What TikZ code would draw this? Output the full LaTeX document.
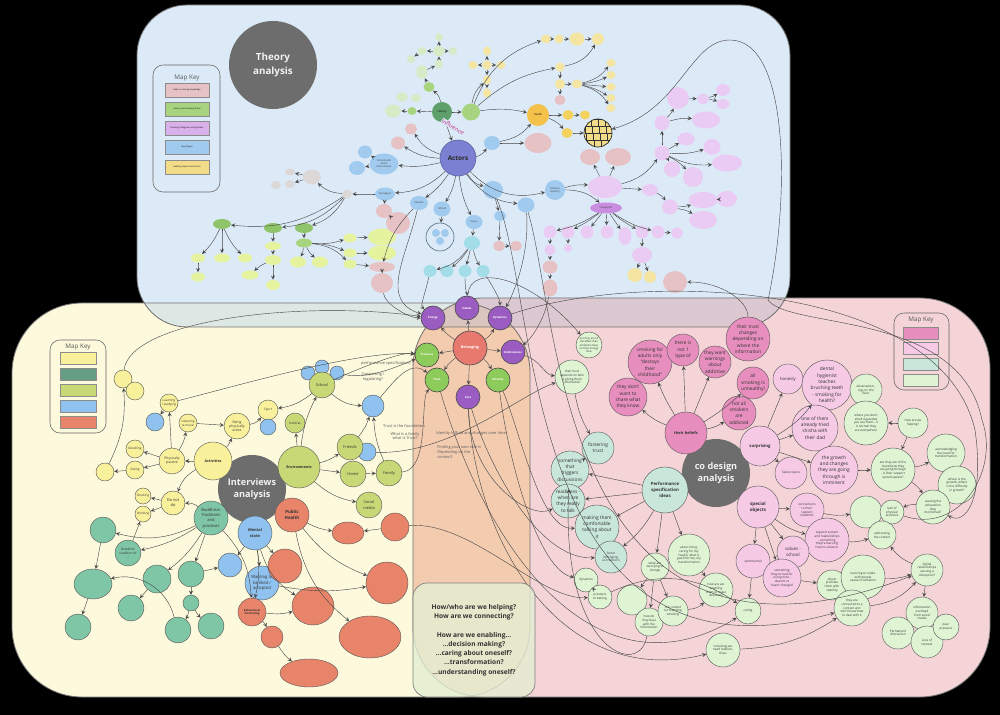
\documentclass[tikz,border=0pt]{standalone}
\usepackage{fontspec}
\setmainfont{Open Sans}
\usetikzlibrary{arrows, positioning, calc, shapes.geometric}
% region colours
\definecolor{regblue}{HTML}{DCEAF7}
\definecolor{regyel}{HTML}{FDF9DC}
\definecolor{regpnk}{HTML}{F4D4D6}
\definecolor{regorg}{HTML}{F3CCB0}
\definecolor{regby}{HTML}{DDE7E3}
\definecolor{regbp}{HTML}{DCC8D0}
\definecolor{regall}{HTML}{DAC6BE}
\definecolor{qbox}{HTML}{E3EED2}
\definecolor{cgrey}{HTML}{6D6D6D}
% theory colours
\definecolor{tpk}{HTML}{E6C2C5}
\definecolor{tdg}{HTML}{5F9F6B}
\definecolor{tmg}{HTML}{8FC46A}
\definecolor{tlg}{HTML}{A8D47F}
\definecolor{tpg}{HTML}{D6EBC6}
\definecolor{tyg}{HTML}{E6F39E}
\definecolor{tbl}{HTML}{A0CAEE}
\definecolor{tte}{HTML}{A3DDE8}
\definecolor{tlv}{HTML}{EACBF3}
\definecolor{tpu}{HTML}{C98EE0}
\definecolor{tyl}{HTML}{F4E5A2}
\definecolor{tys}{HTML}{F5D25E}
\definecolor{tor}{HTML}{F4C24A}
\definecolor{tgy}{HTML}{DCD8D8}
\definecolor{tact}{HTML}{7C80D2}
\definecolor{tnote}{HTML}{F2DC8A}
% interview colours
\definecolor{iyl}{HTML}{F9F09B}
\definecolor{iyg}{HTML}{C9D877}
\definecolor{ite}{HTML}{7FC6A6}
\definecolor{ibl}{HTML}{8FC2EE}
\definecolor{ior}{HTML}{E8846A}
% co design colours
\definecolor{cdp}{HTML}{E78EBE}
\definecolor{clp}{HTML}{F6C9E5}
\definecolor{clg}{HTML}{DEF4D3}
\definecolor{clt}{HTML}{C9E6DB}
% belonging colours
\definecolor{bred}{HTML}{E8796F}
\definecolor{bpur}{HTML}{9B5CC2}
\definecolor{bgrn}{HTML}{8DCB5B}
\tikzset{
  region/.style={draw=black!55, line width=0.6pt},
  big/.style={circle, fill=cgrey, text=white!95!black, inner sep=0pt, align=center},
  bub/.style={circle, draw=black!65, line width=0.3pt, inner sep=0pt, align=center, text=black!80, font=\fontsize{2.2}{2.7}\selectfont},
  rad/.style={minimum size=#1*0.05cm},
  sz/.style 2 args={ellipse, minimum width=#1*0.025cm, minimum height=#2*0.025cm},
  tn/.style={ellipse, inner sep=0pt, align=center, text=black!75, font=\fontsize{1.8}{2.1}\selectfont},
  cl/.style={circle, draw=black!70, line width=0.45pt, inner sep=0pt, align=center, text=white, font=\bfseries\fontsize{2}{2.4}\selectfont, minimum size=0.6cm},
  tra/.style={->, >=stealth, draw=black!72, line width=0.3pt},
  lab/.style={font=\fontsize{2.8}{3.4}\selectfont, text=black!65, align=center, inner sep=0pt},
  keybox/.style={draw=black!60, line width=0.4pt, rounded corners=0.25cm},
  keyrow/.style={draw=black!45, line width=0.3pt, inner sep=0pt, minimum width=1.1cm, minimum height=0.36cm, align=center, text width=1.05cm, font=\fontsize{1.5}{1.8}\selectfont},
  keytit/.style={font=\fontsize{4.5}{5}\selectfont, text=black!65}
}

\begin{document}
\begin{tikzpicture}[x=0.025cm, y=-0.025cm]
	\useasboundingbox (0,0) rectangle (1000,715);
	\fill[black] (0,0) rectangle (1000,715);
	% regions
	\fill[regyel, rounded corners=1.75cm] (12,303) rectangle (530,697);
	\fill[regpnk, rounded corners=1.75cm] (413,298) rectangle (990,697);
	\fill[regblue, rounded corners=1.25cm] (137,5) rectangle (790,327);
	\begin{scope}
		\clip[rounded corners=1.75cm] (12,303) rectangle (530,697);
		\fill[regorg, rounded corners=1.75cm] (413,298) rectangle (990,697);
		\fill[regby, rounded corners=1.25cm] (137,5) rectangle (790,327);
	\end{scope}
	\begin{scope}
		\clip[rounded corners=1.75cm] (413,298) rectangle (990,697);
		\fill[regbp, rounded corners=1.25cm] (137,5) rectangle (790,327);
	\end{scope}
	\begin{scope}
		\clip[rounded corners=1.75cm] (12,303) rectangle (530,697);
		\clip[rounded corners=1.75cm] (413,298) rectangle (990,697);
		\fill[regall, rounded corners=1.25cm] (137,5) rectangle (790,327);
	\end{scope}
	\draw[region, rounded corners=1.75cm] (12,303) rectangle (530,697);
	\draw[region, rounded corners=1.75cm] (413,298) rectangle (990,697);
	\draw[region, rounded corners=1.25cm] (137,5) rectangle (790,327);

	% ---------- theory analysis ----------
	\node[big, minimum size=2.2cm, font=\bfseries\fontsize{7}{10.5}\selectfont] (theo) at (273,65) {Theory\\analysis};
	\draw[keybox] (153,65) rectangle (220,192);
	\node[keytit] (tkey) at (187,78) {Map Key};
	\foreach \nm/\y/\c/\t in {ka/90/tpk/Gaps in missing knowledge, kb/109/tlg/History and Smoking Terms, kc/128/tpu!70/Smoking Categories and Systems, kd/147/tbl/Key Players, ke/167/tnote/Healthy Aspects and Terms}
		\node[keyrow, fill=\c] (\nm) at (187,\y) {\t};

	\foreach \nm/\x/\y/\ww/\hh in {hB/393/111/16/13, hC/402/97/12/9, hD/416/98/10/8, hF/422/72/11/14, hG/411/59/8/8, hH/422/51/9/8, hI/439/51/12/10, hJ/439/37/8/8, hK/453/51/8/8, hL/439/64/8/9}
		\node[tn, sz={\ww}{\hh}, fill=tpg] (\nm) at (\x,\y) {};
	\foreach \nm/\x/\y/\ww/\hh in {hA/412/111/9/8, hE/429/87/11/10, hM/471/112/18/17, gr3a/304/243/16/9}
		\node[tn, sz={\ww}{\hh}, fill=tlg] (\nm) at (\x,\y) {};
	\foreach \nm/\x/\y/\ww/\hh in {gr1/222/224/18/10, gr2/273/228/18/10, gr3/304/228/18/10}
		\node[tn, sz={\ww}{\hh}, fill=tmg] (\nm) at (\x,\y) {};
	\foreach \nm/\x/\y/\ww/\hh in {gr1a/198/258/14/9, gr1b/198/277/14/9, gr1c/222/258/16/9, gr1d/245/258/14/9, gr2a/273/246/16/8, gr2b/273/260/16/10, gr2c/273/285/14/10, gr2d/250/275/17/9, gr3b/298/262/16/11, gr3c/320/262/16/11, gA1/350/238/13/9, gA2/350/253/13/9, gA3/350/264/13/9, ygA/382/237/28/17, ygB/382/253/28/15}
		\node[tn, sz={\ww}{\hh}, fill=tyg] (\nm) at (\x,\y) {};
	\foreach \nm/\x/\y/\ww/\hh in {yA/487/51/8/9, yB/473/65/9/8, yC/487/65/9/9, yD/501/65/9/8, yE/487/80/8/9, yF/487/93/8/9, yG/546/39/10/9, yH/559/39/9/9, yI/577/39/15/13, yJ/598/39/12/12, yK/560/67/9/9, yL/560/84/10/10, yM/577/84/10/9, yN/611/63/9/8, yO/611/75/9/8, yP/611/87/9/8, yQ/611/98/9/8, yR/611/108/9/8, c6b/635/275/15/14, c6c/650/277/12/12}
		\node[tn, sz={\ww}{\hh}, fill=tyl] (\nm) at (\x,\y) {};
	\foreach \nm/\x/\y/\ww/\hh in {yS/568/115/11/10, yT/585/115/10/9, yU/567/133/11/10}
		\node[tn, sz={\ww}{\hh}, fill=tys] (\nm) at (\x,\y) {};
	\foreach \nm/\x/\y/\ww/\hh in {pA/560/100/11/10, pB/590/157/20/16, pC/618/157/26/18, pD/675/282/24/22, pE/411/129/12/11, pF/398/143/14/13, pG/538/143/27/20, pH/384/211/16/14, pI/398/223/24/22, pJ/499/246/12/10, pK/516/246/12/10, pL/382/267/26/10, pM/382/283/22/20, c1b/550/267/15/13, c1c/550/288/15/17}
		\node[tn, sz={\ww}{\hh}, fill=tpk] (\nm) at (\x,\y) {};
	\foreach \nm/\x/\y/\ww/\hh in {lA/605/187/34/22, lB/650/190/16/12, c1/550/232/13/13, c2/568/232/13/13, c3/587/232/13/13, c4/607/232/13/13, c5/625/236/13/18, c6/642/232/13/13, c7/658/232/13/13, c8/677/233/12/11, c1a/550/250/11/11, c2a/568/248/8/8, c6a/642/255/20/16, r1/662/123/15/15, r2/678/98/22/22, r3/703/99/12/10, r4/723/90/14/12, r5/723/104/13/10, r6/706/120/28/17, r7/662/153/15/15, r8/686/139/17/13, r9/712/147/17/16, r10/727/163/30/17, r11/672/169/16/16, r12/693/177/20/20, r13/670/207/16/15, r14/703/200/29/16, r15/727/199/20/16, r16/703/220/28/18}
		\node[tn, sz={\ww}{\hh}, fill=tlv] (\nm) at (\x,\y) {};
	\foreach \nm/\x/\y/\ww/\hh in {frA/365/152/14/13, frB/357/168/16/14, hc/492/143/16/14, gov/493/190/20/18, bA/526/205/17/15, bB/500/216/12/10}
		\node[tn, sz={\ww}{\hh}, fill=tbl] (\nm) at (\x,\y) {};
	\foreach \nm/\x/\y/\ww/\hh in {tA/472/243/16/14, tB/430/271/13/12, tC/447/271/13/12, tD/465/271/13/12, tE/483/271/13/12}
		\node[tn, sz={\ww}{\hh}, fill=tte] (\nm) at (\x,\y) {};
	\foreach \nm/\x/\y/\ww/\hh in {gA/347/194/10/9, gD/312/177/18/15, gE/290/172/10/7, gF/290/184/10/8, gG/276/185/10/8}
		\node[tn, sz={\ww}{\hh}, fill=tgy] (\nm) at (\x,\y) {};

	\node[circle, fill=tact, draw=tact!75!black, line width=0.4pt, minimum size=36*0.025cm, inner sep=0pt, text=black!85, font=\bfseries\fontsize{4.5}{5}\selectfont] (act) at (458,158) {Actors};
	\node[circle, fill=tdg, minimum size=20*0.025cm, inner sep=0pt, font=\fontsize{1.9}{2.2}\selectfont] (hist) at (442,112) {History};
	\node[circle, fill=tor, minimum size=22*0.025cm, inner sep=0pt, font=\fontsize{1.9}{2.2}\selectfont] (health) at (538,115) {Health};
	\node[tn, sz={29}{21}, fill=tbl] (fr) at (384,164) {Friends and\\social\\environment};
	\node[tn, sz={20}{13}, fill=tbl] (teen) at (385,194) {Teenagers};
	\node[tn, sz={18}{14}, fill=tbl] (par) at (419,203) {Parents};
	\node[tn, sz={17}{15}, fill=tbl] (tsch) at (442,209) {School};
	\node[tn, sz={17}{14}, fill=tbl] (tpeer) at (474,222) {Peers};
	\node[tn, sz={20}{20}, fill=tbl] (tob) at (555,190) {Tobacco\\industry};
	\node[tn, sz={32}{11}, fill=tpu] (cat) at (606,208) {Categories};
	\node[circle, draw=tbl!60!black, line width=0.5pt, minimum size=28*0.025cm] (schgrp) at (440,237) {};
	\foreach \nm/\x/\y in {sgA/436/233, sgB/445/233, sgC/440/241}
		\node[circle, fill=tbl, minimum size=8*0.025cm, inner sep=0pt] (\nm) at (\x,\y) {};
	% sticky notes
	\node[circle, fill=tnote, minimum size=28*0.025cm, inner sep=0pt] (stk) at (598,133) {};
	\begin{scope}
		\clip (598,133) circle (0.35cm);
		\foreach \i in {0,...,3}
			\foreach \j in {0,...,3}
				\draw[fill=tnote, draw=black!80, line width=0.3pt] (584+\i*7+\j,119+\j*7) rectangle ++(7,7);
	\end{scope}
	\draw[black!85, line width=0.5pt] (stk) circle (0.35cm);

	\draw[tra] (hist) -- (act);
	\node[rotate=-32, fill=regblue, inner sep=0.3pt, text=magenta!75!black, font=\fontsize{4.2}{4.6}\selectfont] (infl) at (453,127) {Influence};
	\foreach \a/\b/\s in {hist/hA/0, hA/hB/0, hist/hM/0, hist/hE/-20, hE/hF/0, hF/hL/0, hL/hI/0, hI/hJ/0, hI/hH/0, hI/hK/0, hH/hG/0, hM/yE/20, hM/yG/25, hM/yK/15, hM/health/10, yC/yA/0, yC/yB/0, yC/yD/0, yC/yE/0, yE/yF/0, yG/yH/0, yH/yI/0, yI/yJ/0, yK/yL/0, yL/yM/0, yL/pA/0, yM/yN/-20, yM/yO/-10, yM/yP/0, yM/yQ/10, yM/yR/20, yK/yJ/-25, health/yS/0, yS/yT/0, health/yU/15, yU/stk/0, act/hc/-20, hc/pG/0, hc/health/-20, act/fr/10, fr/frA/0, fr/frB/0, act/pE/20, act/pF/15, act/teen/20, act/par/10, act/tsch/10, act/tpeer/-10, act/gov/-20, act/bA/-25, act/tob/-30, teen/gA/0, gA/gD/20, gD/gE/0, gD/gF/0, gA/gr1/20, gA/gr2/20, gA/gr3/20, gr1/gr1a/10, gr1a/gr1b/0, gr1/gr1c/0, gr1/gr1d/-10, gr2/gr2a/0, gr2a/gr2b/0, gr2b/gr2c/0, gr2b/gr2d/-10, gr3/gr3a/0, gr3a/gr3b/10, gr3a/gr3c/-10, gr3a/gA1/-10, gr3a/gA2/10, gr3a/gA3/20, gA1/ygA/0, gA2/ygB/0, gA3/pL/0, teen/pH/0, pH/pI/0, par/pL/-15, tsch/schgrp/0, tpeer/tA/0, tA/tB/20, tA/tC/10, tA/tD/0, tA/tE/-10, gov/bB/0, bB/pJ/0, pJ/pK/0, tob/lA/10, tob/cat/20, lA/pB/0, lA/pC/0, lA/lB/0, lA/r7/-20, r7/r1/0, r1/r2/-10, r1/r6/10, r2/r3/0, r3/r4/-10, r3/r5/10, r7/r8/0, r7/r9/-10, r7/r10/-15, r7/r11/10, r7/r12/10, lB/r13/15, r13/r14/-10, r13/r16/10, r14/r15/0, cat/c1/10, cat/c2/5, cat/c3/0, cat/c4/0, cat/c5/0, cat/c6/-5, cat/c7/-10, c7/c8/0, c1/c1a/0, c1a/c1b/0, c1b/c1c/0, c2/c2a/0, c6/c6a/0, c6a/c6b/0, c6a/c6c/0, pL/pM/0}
		\draw[tra] (\a) to[bend left=\s] (\b);

	% ---------- belonging ----------
	\node[cl, fill=bred, minimum size=34*0.025cm, font=\bfseries\fontsize{2.6}{3}\selectfont] (bel0) at (470,348) {Belonging};
	\foreach \nm/\x/\y/\c/\t in {energy/433/318/bpur/Energy, habits/467/308/bpur/Habits, dyn0/500/318/bpur/Dynamics, amb/513/352/bpur/Ambivalence, care/468/397/bpur/Care, pres/427/355/bgrn/Presence, trust/437/380/bgrn/Trust, ident/498/380/bgrn/Identity}
		\node[cl, fill=\c] (\nm) at (\x,\y) {\t};
	\foreach \a/\b/\s in {bel0/energy/10, bel0/habits/0, bel0/dyn0/-15, bel0/amb/0, bel0/pres/0, bel0/trust/-10, bel0/ident/10, bel0/care/0}
		\draw[tra] (\a) to[bend left=\s] (\b);

	% ---------- interviews analysis ----------
	\node[big, minimum size=1.7cm, font=\bfseries\fontsize{6.5}{8.5}\selectfont] (intv) at (252,489) {Interviews\\analysis};
	\draw[keybox] (50,340) rectangle (106,433);
	\node[keytit] (ikey) at (78,347) {Map Key};
	\foreach \nm/\y/\c in {ia/358/iyl, ib/374/ite!80!black, ic/390/iyg, id/406/ibl, ie/422/ior}
		\node[keyrow, fill=\c, minimum width=0.9cm, minimum height=0.3cm, text width=0.85cm] (\nm) at (78,\y) {};

	\node[bub, fill=iyl, rad=9] (hang) at (123,379) {};
	\node[bub, fill=iyl, rad=9] (y2) at (135,391) {};
	\node[bub, fill=iyl, rad=9] (learn) at (169,403) {Learning\\/ studying};
	\node[bub, fill=iyl, rad=9] (music) at (188,423) {Listening\\to music};
	\node[bub, fill=iyl, rad=13, font=\fontsize{2.4}{2.9}\selectfont] (active) at (237,426) {Being\\physically\\active};
	\node[bub, fill=iyl, rad=19, font=\bfseries\fontsize{2.6}{3}\selectfont] (acts) at (213,461) {Activities};
	\node[bub, fill=iyl, rad=13, font=\fontsize{2.4}{2.9}\selectfont] (passive) at (172,461) {Physically\\passive};
	\node[bub, fill=iyl, rad=9] (y8) at (135,449) {Doodling};
	\node[bub, fill=iyl, rad=9] (y9) at (135,470) {Eating};
	\node[bub, fill=iyl, rad=9] (y10) at (105,472) {};
	\node[bub, fill=iyl, rad=8] (smoke) at (143,496) {Smoking};
	\node[bub, fill=iyl, rad=8] (drink) at (143,514) {Drinking};
	\node[bub, fill=iyl, rad=12, font=\fontsize{2.8}{3.4}\selectfont] (dnd) at (173,503) {Do not\\do};
	\node[bub, fill=iyl, rad=10] (sport) at (268,410) {Sport};
	\node[bub, fill=ibl, rad=9] (drugs) at (155,422) {};
	\node[bub, fill=ibl, rad=7] (sch1) at (308,373) {};
	\node[bub, fill=ibl, rad=7] (sch2) at (322,367) {};
	\node[bub, fill=ibl, rad=7] (sch3) at (337,373) {};
	\node[bub, fill=ibl, rad=8] (sportb) at (268,427) {};
	\node[bub, fill=ibl, rad=11] (adults) at (373,406) {};
	\node[bub, fill=ibl, rad=9] (frb) at (367,452) {};
	\node[bub, fill=ibl, rad=12] (memb) at (230,565) {};
	\node[bub, fill=ibl, rad=17, font=\fontsize{3}{4.2}\selectfont] (want) at (262,583) {Wanting to\\be liked /\\accepted};
	\node[bub, fill=ibl, rad=17, font=\bfseries\fontsize{2.8}{3.6}\selectfont] (mental) at (255,533) {Mental\\state};
	\node[bub, fill=iyg, rad=13, font=\fontsize{2.8}{3.4}\selectfont] (school) at (322,385) {School};
	\node[bub, fill=iyg, rad=10] (hob) at (295,423) {Hobbies};
	\node[bub, fill=iyg, rad=21, font=\bfseries\fontsize{2.6}{3}\selectfont] (env) at (299,467) {Environments};
	\node[bub, fill=iyg, rad=13, font=\fontsize{2.8}{3.4}\selectfont] (friends) at (350,447) {Friends};
	\node[bub, fill=iyg, rad=13, font=\fontsize{2.8}{3.4}\selectfont] (home) at (353,474) {Home};
	\node[bub, fill=iyg, rad=13, font=\fontsize{2.8}{3.4}\selectfont] (family) at (389,473) {Family};
	\node[bub, fill=iyg, rad=13, font=\fontsize{2.8}{3.6}\selectfont] (social) at (369,505) {Social\\media};
	\node[bub, fill=ite, rad=17, font=\fontsize{2.9}{3.8}\selectfont] (budd) at (211,518) {Buddhism\\Traditions\\and\\practices};
	\node[bub, fill=ite, rad=13, font=\fontsize{2.3}{2.9}\selectfont] (bt) at (128,553) {Buddhist\\tradition of\\...};
	\foreach \nm/\x/\y/\r in {t1/103/530/13, t3/78/627/13, t4/157/579/14, t5/131/608/13, t6/191/574/13, t7/191/603/8, t8/178/630/13, t9/211/626/13}
		\node[bub, fill=ite, rad=\r] (\nm) at (\x,\y) {};
	\node[bub, fill=ite, sz={38}{30}] (t2) at (93,584) {};
	\node[bub, fill=ior, rad=17, font=\bfseries\fontsize{3.1}{4}\selectfont] (ph) at (292,515) {Public\\Health};
	\node[bub, fill=ior, rad=17] (o1) at (285,566) {};
	\node[bub, fill=ior, rad=14, font=\bfseries\fontsize{1.9}{2.3}\selectfont] (beh) at (252,612) {Behavioural\\monitoring};
	\node[bub, fill=ior, rad=11] (o3) at (272,637) {};
	\node[bub, fill=ior, sz={42}{38}] (o4) at (313,606) {};
	\node[bub, fill=ior, sz={58}{28}] (o5) at (309,673) {};
	\node[bub, fill=ior, sz={32}{22}] (o6) at (348,533) {};
	\node[bub, fill=ior, rad=14] (o7) at (395,527) {};
	\node[bub, fill=ior, rad=21] (o8) at (387,583) {};
	\node[bub, fill=ior, sz={62}{42}] (o9) at (370,637) {};

	\foreach \a/\b/\s in {acts/passive/0, acts/active/-10, music/active/0, passive/learn/0, passive/music/-10, passive/y8/0, passive/y9/0, y9/y10/0, y10/hang/-15, learn/drugs/0, acts/dnd/-20, dnd/smoke/0, dnd/drink/0, active/sport/-20, school/sport/15, env/hob/0, env/school/10, env/friends/-10, env/home/0, home/family/0, friends/adults/-10, family/adults/10, school/adults/-20, env/social/-15, ph/o6/-10, o7/o6/0, ph/o8/-15, ph/o9/-20, mental/memb/0, mental/want/0, mental/o1/0, mental/beh/10, mental/o4/-20, want/o8/-10, beh/o3/10, o3/o5/-10, beh/o4/-10, budd/beh/20, budd/bt/10, budd/t1/20, budd/t4/10, budd/t6/0, budd/dnd/-20, t1/t2/0, t2/t3/0, t4/t5/0, t6/t7/0, t7/t8/10, t7/t9/-10, t8/t2/-45, t6/memb/0, bt/drink/0}
		\draw[tra] (\a) to[bend left=\s] (\b);

	% interviews to belonging
	\draw[tra] (hang) .. controls (130,320) and (300,300) .. (energy);
	\draw[tra] (learn) .. controls (240,385) and (360,350) .. (pres);
	\draw[tra] (school) .. controls (360,368) and (400,352) .. (pres);
	\draw[tra] (sch3) .. controls (370,380) and (400,365) .. (pres);
	\node[lab] (lperf) at (386,363) {performance specification?};
	\node[lab] (lsupp) at (373,377) {Supporting /\\regulating?};
	\draw[tra] (adults) .. controls (395,380) and (410,360) .. (trust);
	\draw[tra] (family) .. controls (430,470) and (420,400) .. (trust);
	\node[lab] (lfound) at (404,426) {Trust is the foundation};
	\node[lab] (lfam) at (405,436) {What is a family\\what is Trust?};
	\node[lab, anchor=west] (lident) at (436,433) {Identity is fluid and changes over time};
	\node[lab, anchor=west, align=left] (lrole) at (437,452) {Finding your own role is\\Depending on the\\context?};

	% theory to belonging
	\draw[tra] (pM) .. controls (385,305) and (410,318) .. (energy);
	\draw[tra] (tB) .. controls (425,295) and (420,305) .. (energy);
	\draw[tra] (tD) .. controls (465,290) and (467,295) .. (habits);
	\draw[tra] (tE) .. controls (495,290) and (500,300) .. (dyn0);
	\draw[tra] (bA) .. controls (530,260) and (510,300) .. (dyn0);
	\draw[tra] (c1c) .. controls (545,320) and (530,340) .. (amb);
	\draw[tra] (par) .. controls (405,260) and (380,300) .. (energy);

	% ---------- co design analysis ----------
	\node[big, minimum size=1.7cm, font=\bfseries\fontsize{6.5}{8.5}\selectfont] (codes) at (716,473) {co design\\analysis};
	\draw[keybox] (894,313) rectangle (949,390);
	\node[keytit] (ckey) at (921,320) {Map Key};
	\foreach \nm/\y/\c in {ca/333/cdp, cb/348/clp, cc/364/clt, cdk/380/clg}
		\node[keyrow, fill=\c, minimum width=0.88cm, minimum height=0.3cm, text width=0.85cm] (\nm) at (921,\y) {};

	\tikzset{mid/.style={font=\fontsize{3.4}{4.5}\selectfont}}
	\node[bub, fill=cdp, rad=22, mid] (sadult) at (650,362) {smoking for\\adults only\\``destoys\\their\\childhood''};
	\node[bub, fill=cdp, rad=16, mid] (type) at (683,350) {there is\\not 1\\type of};
	\node[bub, fill=cdp, rad=16, mid] (warn) at (715,362) {they want\\warnings\\about\\addictive};
	\node[bub, fill=cdp, rad=22, mid] (trch) at (748,339) {their trust\\changes\\depending on\\where the\\information};
	\node[bub, fill=cdp, rad=16, mid] (allsm) at (753,383) {all\\smoking is\\unhealthy!};
	\node[bub, fill=cdp, rad=17, mid] (notall) at (739,413) {not all\\smokers\\are\\addicted};
	\node[bub, fill=cdp, rad=19, mid] (share) at (628,397) {they don't\\want to\\share what\\they know};
	\node[bub, fill=cdp, rad=21, font=\bfseries\fontsize{2.8}{3.4}\selectfont] (bel) at (686,433) {their beliefs};
	\node[bub, fill=clp, rad=20, font=\bfseries\fontsize{3}{3.6}\selectfont] (surp) at (760,446) {surprising};
	\node[bub, fill=clp, rad=15, font=\fontsize{3}{3.6}\selectfont] (hon) at (788,379) {honesty};
	\node[bub, fill=clp, rad=25, mid] (dent) at (827,385) {dental\\hygienist\\teaches\\brushing teeth\\- smoking for\\health?};
	\node[bub, fill=clp, rad=23, mid] (shisha) at (815,428) {one of them\\already tried\\shisha with\\their dad};
	\node[bub, fill=clp, rad=16] (taboo) at (791,473) {Taboo topics};
	\node[bub, fill=clp, rad=24, mid] (growth) at (834,470) {the growth\\and changes\\they are going\\through is\\imminent};
	\node[bub, fill=clp, rad=21, font=\bfseries\fontsize{3.2}{4.2}\selectfont] (spec) at (758,507) {special\\objects};
	\node[bub, fill=clp, rad=17] (conn) at (807,510) {connections\\to their\\support\\networks};
	\node[bub, fill=clp, rad=22] (supp) at (827,540) {support system\\and relationships\\- something\\they're learning\\how to relate to};
	\node[bub, fill=clp, rad=16, font=\fontsize{3.2}{4.2}\selectfont] (val) at (793,552) {values -\\school};
	\node[bub, fill=clp, rad=17] (sent) at (753,561) {sentimental};
	\node[bub, fill=clp, rad=19] (long) at (782,578) {something\\they've had for\\a long time -\\doesn't or\\hasn't changed};
	\node[bub, fill=clg, rad=13, font=\fontsize{1.9}{2.4}\selectfont] (aff) at (589,345) {are they are of\\the affect their\\emotions have\\on their energy\\flow};
	\node[bub, fill=clg, rad=17] (dep) at (572,377) {their trust\\depends on who\\is giving them\\information};
	\node[bub, fill=clg, rad=16] (obs) at (866,390) {observation -\\cigs on the\\floor};
	\node[bub, fill=clg, rad=22] (smell) at (866,423) {where you don't\\smell cigarettes\\you see them - it\\is normal they\\are everywhere};
	\node[bub, fill=clg, rad=15] (help) at (913,423) {How are we\\helping?};
	\node[bub, fill=clg, rad=22] (trans) at (893,470) {are they are of the\\transitions they\\are going through\\- is their support\\system aware?};
	\node[bub, fill=clg, rad=19] (ackn) at (946,453) {acknowledging\\the need for\\transformation};
	\node[bub, fill=clg, rad=19] (where) at (957,485) {where is the\\growth, where\\is the difficulty\\in growth?};
	\node[bub, fill=clg, rad=17] (exh) at (933,507) {causing the\\exhaustion\\they\\mentioned?};
	\node[bub, fill=clg, rad=16] (lg1) at (866,512) {};
	\node[bub, fill=clg, rad=12] (lack) at (892,512) {lack of\\physical\\activities};
	\node[bub, fill=clg, rad=14] (addr) at (882,535) {addressing\\the context};
	\node[bub, fill=clg, rad=15] (stab) at (832,585) {object\\provides\\them with\\stability};
	\node[bub, fill=clg, rad=22] (frus) at (863,577) {learning to relate\\with people\\causes frustration};
	\node[bub, fill=clg, rad=18] (ctx) at (852,608) {they are\\connected to a\\context and\\don't know how\\to deal with it};
	\node[bub, fill=clg, rad=16] (dig) at (927,570) {digital\\relationships\\causing a\\disruption?};
	\node[bub, fill=clg, rad=16] (info) at (922,613) {information\\overload\\from social\\media};
	\node[bub, fill=clg, rad=16] (perm) at (898,633) {Permanent\\distraction};
	\node[bub, fill=clg, rad=16] (loss) at (927,642) {Loss of\\interest};
	\node[bub, fill=clg, rad=13] (peerp) at (946,627) {peer\\pressure};
	\node[bub, fill=clg, rad=13] (caring) at (748,611) {caring};
	\node[bub, fill=clg, rad=17] (rel) at (723,650) {to belong we\\need relation-\\ships};
	\node[bub, fill=clg, rad=14] (change) at (655,567) {what are\\we trying to\\change};
	\node[bub, fill=clg, rad=21] (living) at (689,555) {about living,\\caring for my\\health, what is\\good for me, my\\transformation};
	\node[bub, fill=clg, rad=17] (enab) at (716,590) {how are we\\enabling\\them to make\\decisions};
	\node[bub, fill=clg, rad=15] (alert) at (632,600) {};
	\node[bub, fill=clg, rad=14] (deal) at (649,622) {how do\\they deal\\with the\\information};
	\node[bub, fill=clg, rad=15] (ctxs) at (673,611) {the context\\surrounding\\smoking};
	\node[bub, fill=clg, rad=12] (dyn) at (586,580) {dynamics};
	\node[bub, fill=clg, rad=12] (press) at (600,597) {pressure\\to belong};
	\node[bub, fill=clt, rad=16, mid] (fost) at (598,448) {fostering\\trust};
	\node[bub, fill=clt, rad=19, mid] (trig) at (570,470) {something\\that\\triggers\\discussions};
	\node[bub, fill=clt, rad=17, mid] (ready) at (568,501) {readiness -\\when are\\they ready\\to talk};
	\node[bub, fill=clt, rad=22, mid] (comf) at (597,527) {making them\\comfortable\\talking about\\it};
	\node[bub, fill=clt, rad=16] (fbel) at (611,557) {foster\\belonging,\\connections};
	\node[bub, fill=clt, rad=23, font=\bfseries\fontsize{3.1}{4.1}\selectfont] (perf) at (665,490) {Performance\\specification\\ideas};

	\foreach \a/\b/\s in {bel/share/10, bel/sadult/5, bel/type/0, bel/warn/0, bel/allsm/-5, bel/notall/-10, dep/fost/-10, trig/fost/0, perf/trig/0, perf/ready/0, perf/comf/0, perf/fbel/10, perf/change/0, perf/living/0, change/alert/0, change/deal/0, change/ctxs/0, ctxs/enab/-20, living/enab/0, dyn/press/0, surp/hon/0, surp/dent/-10, surp/shisha/0, surp/taboo/0, surp/growth/0, growth/trans/0, help/smell/0, help/trans/0, trans/ackn/-10, trans/exh/10, spec/conn/0, spec/supp/-10, spec/val/0, spec/sent/0, spec/long/0, conn/lg1/-10, supp/addr/-10, exh/lack/-15, long/stab/0, sent/caring/0, frus/dig/-10, ctx/dig/-20, dig/info/0, dig/addr/15, rel/ctx/-15, press/caring/30}
		\draw[tra] (\a) to[bend left=\s] (\b);

	% long connectors
	\draw[tra] (trch) .. controls (748,300) and (720,282) .. (pD);
	\draw[tra] (lack) .. controls (960,535) and (1000,470) .. (982,420) .. controls (960,310) and (790,330) .. (768,300) .. controls (790,200) and (790,40) .. (730,40) .. controls (690,40) and (680,110) .. (stk);
	\draw[tra] (dyn0) .. controls (640,270) and (940,280) .. (975,430) .. controls (985,500) and (965,525) .. (exh);
	\draw[tra] (amb) .. controls (540,360) and (545,375) .. (dep);
	\draw[tra] (frb) .. controls (450,455) and (520,395) .. (dep);
	\draw[tra] (care) .. controls (490,470) and (540,560) .. (fbel);
	\draw[tra] (care) .. controls (470,480) and (530,520) .. (ready);
	\draw[tra] (ident) .. controls (520,430) and (540,530) .. (comf);
	\draw[tra] (ident) .. controls (510,470) and (540,570) .. (dyn);
	\draw[tra] (o7) .. controls (470,520) and (540,600) .. (press);
	\draw[tra] (care) .. controls (475,540) and (560,690) .. (rel);
	\draw[tra] (trust) .. controls (490,560) and (600,700) .. (caring);
	\draw[tra] (gov) .. controls (540,300) and (520,700) .. (ctx);
	\draw[tra] (bA) .. controls (560,320) and (560,710) .. (dig);
	\draw[tra] (habits) .. controls (470,260) and (535,280) .. (aff);
	\draw[tra] (deal) .. controls (640,680) and (560,650) .. (trig);

	% question box, over the lines
	\node[draw=black!50, line width=0.5pt, fill=qbox, fill opacity=0.8, text opacity=1, rounded corners=0.35cm, minimum width=122*0.025cm, minimum height=114*0.025cm, align=center, text=black!80, font=\bfseries\fontsize{4.7}{6.6}\selectfont] (ques) at (474,640) {How/who are we helping?\\How are we connecting?\\[6.6pt]How are we enabling...\\...decision making?\\...caring about oneself?\\...transformation?\\...understanding oneself?};
\end{tikzpicture}
\end{document}
